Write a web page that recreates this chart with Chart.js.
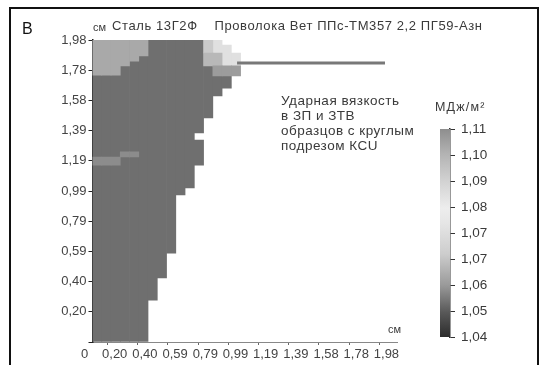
<!DOCTYPE html>
<html>
<head>
<meta charset="utf-8">
<script src="https://cdn.jsdelivr.net/npm/chart.js@4.4.0/dist/chart.umd.min.js"></script>
<style>
  body { margin: 0; background: #fff; font-family: "Liberation Sans", Arial, sans-serif; }
  #wrap { position: relative; width: 541px; height: 365px; overflow: hidden; }
  #frame { position: absolute; left: 9px; top: 7px; width: 526px; height: 420px; border: 2px solid #111; }
  #map { position: absolute; left: 0; top: 0; }
  #scale { position: absolute; left: 430px; top: 115px; }
  .txt { position: absolute; color: #3a3a3a; white-space: pre; line-height: 1; }
</style>
</head>
<body>
<div id="wrap">
  <div id="frame"></div>
  <canvas id="map" width="541" height="365"></canvas>
  <canvas id="scale" width="80" height="240"></canvas>
  <div class="txt" style="left:22px; top:21px; font-size:16px; color:#111;">В</div>
  <div class="txt" style="left:93px; top:22px; font-size:11px;">см</div>
  <div class="txt" style="left:112px; top:19px; font-size:13px; letter-spacing:0.6px;">Сталь 13Г2Ф    Проволока Вет ППс-ТМ357 2,2 ПГ59-Азн</div>
  <div class="txt" style="left:388px; top:324px; font-size:11px;">см</div>
  <div class="txt" style="left:281px; top:93px; font-size:13.5px; letter-spacing:0.5px; line-height:15px;">Ударная вязкость
в ЗП и ЗТВ
образцов с круглым
подрезом КСU</div>
  <div class="txt" style="left:435px; top:101px; font-size:12.5px; letter-spacing:1.2px;">МДж/м²</div>
</div>
<script>
// ====== ДАННЫЕ ======
const COL_W = 0.0607; // ширина столбца сетки, см

// оси (см)
const axisTicks = [0, 0.198, 0.396, 0.594, 0.792, 0.99, 1.188, 1.386, 1.584, 1.782, 1.98];
const xTickLabels = ['0', '0,20', '0,40', '0,59', '0,79', '0,99', '1,19', '1,39', '1,58', '1,78', '1,98'];
const yTickLabels = ['', '0,20', '0,40', '0,59', '0,79', '0,99', '1,19', '1,39', '1,58', '1,78', '1,98'];

// основная зона (по столбцам 0..14): низ и верх, см
const darkLo = [0, 0, 0, 0, 0, 0, 0.275, 0.42, 0.583, 0.964, 1.01, 1.16, 1.469, 1.613, 1.665];
const darkHi = [1.98, 1.98, 1.98, 1.98, 1.98, 1.98, 1.98, 1.98, 1.98, 1.98, 1.98, 1.324, 1.81, 1.744, 1.744];
const darkExtra = [[11, 1.37, 1.98]];

// светлая зона слева сверху (столбцы 0..5), низ; верх = 1,98
const lightLo = [1.75, 1.75, 1.75, 1.81, 1.842, 1.875];

// прочие участки: [столбец, низ, верх]
const streak = [[0, 1.16, 1.213], [1, 1.16, 1.213], [2, 1.16, 1.213], [3, 1.213, 1.246], [4, 1.213, 1.246]];
const grayMid = [[13, 1.744, 1.81], [14, 1.744, 1.81], [15, 1.744, 1.81]];
const grayPale = [[12, 1.81, 1.895], [13, 1.81, 1.895]];
const grayLight = [[12, 1.895, 1.98]];
const grayFaint = [[13, 1.895, 1.98], [14, 1.81, 1.947], [15, 1.81, 1.895]];

// горизонтальная линия
const lineX = [0.948, 1.918];
const lineY = 1.83;

// шкала
const scaleMin = 1.04;
const scaleMax = 1.11;
const scaleLabels = ['1,04', '1,05', '1,06', '1,07', '1,07', '1,08', '1,09', '1,10', '1,11'];

// ====== ПОСТРОЕНИЕ ======
const FONT = 'Liberation Sans, Arial, sans-serif';
const colX = k => (k + 0.5) * COL_W;
const cells = list => list.map(([k, lo, hi]) => ({ x: colX(k), y: [lo, hi] }));

const darkCells = darkLo.map((lo, k) => ({ x: colX(k), y: [lo, darkHi[k]] })).concat(cells(darkExtra));
const lightCells = lightLo.map((lo, k) => ({ x: colX(k), y: [lo, 1.98] }));

function zone(data, color, order) {
    return { type: 'bar', data, backgroundColor: color, borderWidth: 0, order };
}

new Chart(document.getElementById('map'), {
    type: 'bar',
    data: {
        datasets: [
            {
                type: 'line',
                data: lineX.map(x => ({ x, y: lineY })),
                borderColor: '#787878',
                borderWidth: 3,
                pointRadius: 0,
                order: 0
            },
            zone(darkCells, '#6f6f6f', 2),
            zone(lightCells, '#a9a9a9', 1),
            zone(cells(streak), '#8c8c8c', 1),
            zone(cells(grayMid), '#9c9c9c', 1),
            zone(cells(grayPale), '#b8b8b8', 1),
            zone(cells(grayLight), '#cacaca', 1),
            zone(cells(grayFaint), '#e0e0e0', 1)
        ]
    },
    options: {
        responsive: false,
        animation: false,
        layout: { padding: { top: 40, right: 143.5, left: 0, bottom: 0 } },
        plugins: { legend: { display: false }, tooltip: { enabled: false } },
        datasets: { bar: { grouped: false, barPercentage: 1, categoryPercentage: 1 } },
        scales: {
            x: {
                type: 'linear',
                min: 0,
                max: 2.0,
                offset: false,
                afterBuildTicks: s => { s.ticks = axisTicks.map(v => ({ value: v })); },
                afterFit: s => { s.height = 23; },
                ticks: {
                    autoSkip: false,
                    maxRotation: 0,
                    labelOffset: -8,
                    padding: 2,
                    color: '#444',
                    font: { size: 13, family: FONT },
                    callback: (v, i) => xTickLabels[i]
                },
                grid: { drawOnChartArea: false, tickLength: 3, color: '#666' },
                border: { display: true, color: '#888', width: 1, dash: [1, 2] }
            },
            y: {
                type: 'linear',
                min: 0,
                max: 1.98,
                afterBuildTicks: s => { s.ticks = axisTicks.map(v => ({ value: v })); },
                afterFit: s => { s.width = 92.5; },
                ticks: {
                    autoSkip: false,
                    padding: 2,
                    color: '#444',
                    font: { size: 13, family: FONT },
                    callback: (v, i) => yTickLabels[i]
                },
                grid: { drawOnChartArea: false, tickLength: 4, color: '#222' },
                border: { display: true, color: '#222', width: 1.5, dash: [1, 1.5] }
            }
        }
    }
});

// ====== ШКАЛА ЦВЕТА ======
function scaleGradient(context) {
    const area = context.chart.chartArea;
    if (!area) return '#999';
    const g = context.chart.ctx.createLinearGradient(0, area.bottom, 0, area.top);
    g.addColorStop(0, '#2c2c2c');
    g.addColorStop(0.12, '#595959');
    g.addColorStop(0.25, '#9a9a9a');
    g.addColorStop(0.4, '#cdcdcd');
    g.addColorStop(0.55, '#e6e6e6');
    g.addColorStop(0.62, '#ededed');
    g.addColorStop(0.75, '#d2d2d2');
    g.addColorStop(0.88, '#b3b3b3');
    g.addColorStop(1, '#8e8e8e');
    return g;
}

new Chart(document.getElementById('scale'), {
    type: 'bar',
    data: {
        labels: [''],
        datasets: [{
            data: [[scaleMin, scaleMax]],
            backgroundColor: scaleGradient,
            borderWidth: 0,
            barPercentage: 1,
            categoryPercentage: 1
        }]
    },
    options: {
        responsive: false,
        animation: false,
        layout: { padding: { left: 10, top: 13, bottom: 18, right: 0 } },
        plugins: { legend: { display: false }, tooltip: { enabled: false } },
        scales: {
            x: { display: false },
            y: {
                position: 'right',
                min: scaleMin,
                max: scaleMax,
                afterBuildTicks: s => {
                    s.ticks = scaleLabels.map((_, i) => ({ value: scaleMin + i * (scaleMax - scaleMin) / (scaleLabels.length - 1) }));
                },
                afterFit: s => { s.width = 60; },
                ticks: {
                    autoSkip: false,
                    padding: 6,
                    color: '#3a3a3a',
                    font: { size: 13.5, family: FONT },
                    callback: (v, i) => scaleLabels[i]
                },
                grid: { drawOnChartArea: false, tickLength: 5, color: '#333' },
                border: { display: true, color: '#333', width: 1.5 }
            }
        }
    }
});
</script>
</body>
</html>
